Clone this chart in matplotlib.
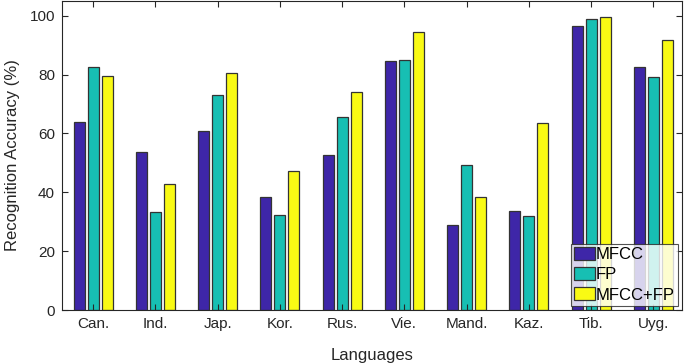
import matplotlib.pyplot as plt
import numpy as np

# Data
languages = ['Can.', 'Ind.', 'Jap.', 'Kor.', 'Rus.', 'Vie.', 'Mand.', 'Kaz.', 'Tib.', 'Uyg.']
mfcc = [63.9, 53.7, 60.9, 38.5, 52.7, 84.6, 29.0, 33.7, 96.6, 82.6]
fp = [82.7, 33.2, 72.9, 32.4, 65.6, 85.0, 49.4, 32.0, 98.9, 79.2]
mfcc_fp = [79.6, 42.8, 80.7, 47.1, 74.0, 94.3, 38.5, 63.4, 99.7, 91.6]

series = {'MFCC': mfcc, 'FP': fp, 'MFCC+FP': mfcc_fp}
colors = ['#3e26a8', '#17bfb3', '#f9fa14']

plt.rcParams['font.family'] = ['Liberation Sans', 'DejaVu Sans']

fig = plt.figure(figsize=(6.85, 3.64), dpi=100)
ax = fig.add_axes([62 / 685, 1 - 310 / 364, 620 / 685, 309 / 364])

x = np.arange(1, len(languages) + 1)
width = 0.18
offsets = [-0.225, 0, 0.225]

for (name, vals), off, c in zip(series.items(), offsets, colors):
    ax.bar(x + off, vals, width, color=c, edgecolor='#333333', linewidth=0.9, label=name)

ax.set_xlim(0.5, 10.46)
ax.set_ylim(0, 105)
ax.set_xticks(x)
ax.set_xticklabels(languages)
ax.set_yticks([0, 20, 40, 60, 80, 100])
ax.tick_params(direction='in', top=True, right=True, length=4, width=0.8,
               labelsize=11, colors='#262626', pad=5)
for s in ax.spines.values():
    s.set_color('#262626')
    s.set_linewidth(0.8)

ax.set_xlabel('Languages', fontsize=12, color='#262626', labelpad=12)
ax.set_ylabel('Recognition Accuracy (%)', fontsize=12, color='#262626', labelpad=7)

leg = ax.legend(loc='lower right', fontsize=12, frameon=True, fancybox=False,
                borderaxespad=0.25, handlelength=1.25, handleheight=0.85,
                handletextpad=0.05, labelspacing=0.28, borderpad=0.2)
leg.get_frame().set_edgecolor('#262626')
leg.get_frame().set_linewidth(0.8)

fig.savefig('out.png', dpi=100)
